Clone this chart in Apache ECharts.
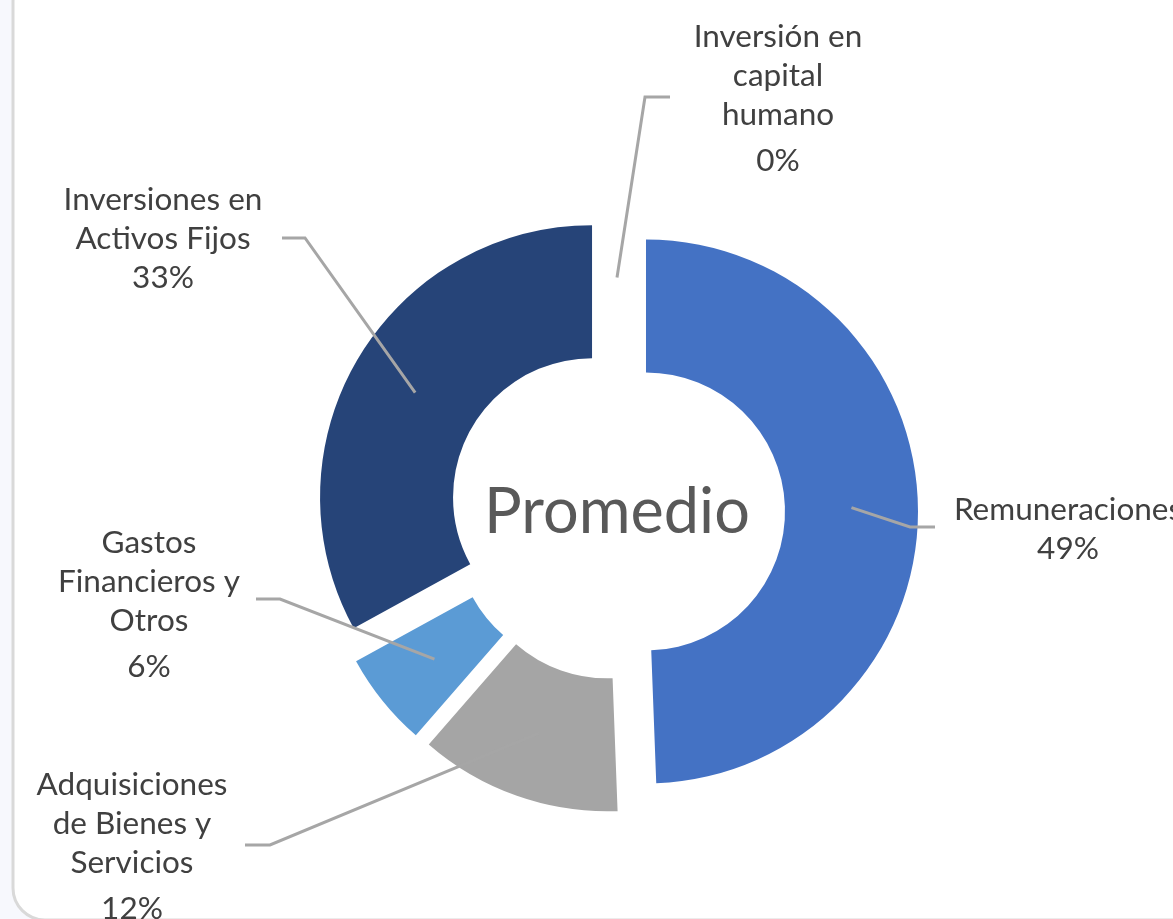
<!DOCTYPE html>
<html lang="es">
<head>
    <meta charset="utf-8" />
    <title>Promedio</title>
    <script src="https://cdn.jsdelivr.net/npm/echarts@6/dist/echarts.min.js"></script>
    <style>
        html, body { margin: 0; padding: 0; background: #f7f8fd; }
    </style>
</head>
<body>
    <div id="box" style="width:1173px;height:919px"></div>
    <script>
        // categorias y valores (porcentajes del promedio)
        var categories = ['Remuneraciones', 'Adquisiciones de Bienes y Servicios', 'Gastos Financieros y Otros', 'Inversiones en Activos Fijos', 'Inversión en capital humano'];
        var labelTexts = ['Remuneraciones', 'Adquisiciones\nde Bienes y\nServicios', 'Gastos\nFinancieros y\nOtros', 'Inversiones en\nActivos Fijos', 'Inversión en\ncapital\nhumano'];
        var values = [49.4, 12.0, 5.6, 33.0, 0];
        var colors = ['#4472c4', '#a5a5a5', '#5b9bd5', '#264478', '#9e480e'];

        // donde van las etiquetas (centro x, arriba y), codo y final de la linea guia
        var labelPos = [[1068, 490], [132, 765], [149, 523], [163, 180], [778, 17]];
        var guideEnds = [
            [[910, 527], [935, 527]],
            [[270, 845], [245, 845]],
            [[280, 599], [256, 599]],
            [[305, 238], [282, 238]],
            [[645, 97], [670, 97]]
        ];
        var tallPct = [false, true, true, false, true];

        var cx = 617, cy = 512, r0 = 139, r1 = 272, explode = 29;
        var font = 'Lato';

        // angulo medio de cada porcion (grados, horario desde arriba) -> para separar las porciones
        var total = values.reduce(function (a, b) { return a + b; }, 0);
        var midAngles = [];
        var acc = 0;
        values.forEach(function (v) {
            midAngles.push((acc + v / 2) / total * 360);
            acc += v;
        });
        function sliceCenter(i) {
            var a = midAngles[i] * Math.PI / 180;
            return [cx + explode * Math.sin(a), cy - explode * Math.cos(a)];
        }

        // una serie por porcion (solo esa porcion visible, desplazada hacia afuera)
        var series = values.map(function (v0, i) {
            return {
                type: 'pie',
                z: 2,
                center: sliceCenter(i),
                radius: [r0, r1],
                startAngle: 90,
                clockwise: true,
                emphasis: { disabled: true },
                silent: true,
                label: { show: false },
                labelLine: { show: false },
                data: values.map(function (v, j) {
                    return {
                        name: categories[j],
                        value: v,
                        itemStyle: { color: j === i ? colors[j] : 'transparent' }
                    };
                })
            };
        });

        // serie invisible encima, solo para las etiquetas y lineas guia
        series.push({
            type: 'pie',
            z: 5,
            center: [cx, cy],
            radius: [r0, r1],
            startAngle: 90,
            clockwise: true,
            avoidLabelOverlap: false,
            emphasis: { disabled: true },
            silent: true,
            itemStyle: { color: 'transparent' },
            data: values.map(function (v, j) {
                return { name: categories[j], value: v };
            }),
            label: {
                show: true,
                position: 'outside',
                formatter: function (p) {
                    var k = tallPct[p.dataIndex] ? 'q' : 'p';
                    return '{n|' + labelTexts[p.dataIndex] + '}\n{' + k + '|' + Math.round(p.percent) + '%}';
                },
                rich: {
                    n: { fontFamily: font, fontSize: 31.5, lineHeight: 39, color: '#404040', align: 'center' },
                    p: { fontFamily: font, fontSize: 31.5, lineHeight: 39, color: '#404040', align: 'center' },
                    q: { fontFamily: font, fontSize: 31.5, lineHeight: 53, color: '#404040', align: 'center' }
                }
            },
            labelLine: {
                show: true,
                length: 10,
                length2: 10,
                lineStyle: { color: '#a6a6a6', width: 3 }
            },
            labelLayout: function (p) {
                var k = p.dataIndex;
                var a = midAngles[k] * Math.PI / 180;
                var c = sliceCenter(k);
                var rm = (r0 + r1) / 2;
                var start = [c[0] + rm * Math.sin(a), c[1] - rm * Math.cos(a)];
                return {
                    x: labelPos[k][0],
                    y: labelPos[k][1],
                    align: 'center',
                    verticalAlign: 'top',
                    labelLinePoints: [start, guideEnds[k][0], guideEnds[k][1]]
                };
            }
        });

        var myChart = echarts.init(document.getElementById('box'));
        var option = {
            backgroundColor: 'transparent',
            animation: false,
            graphic: [
                {
                    type: 'rect',
                    z: -10,
                    shape: { x: 13, y: -30, width: 1200, height: 950, r: 32 },
                    style: { fill: '#ffffff', stroke: '#d9d9d9', lineWidth: 3 }
                },
                {
                    type: 'text',
                    x: cx,
                    y: 513,
                    style: {
                        text: 'Promedio',
                        fill: '#595959',
                        font: '63px Lato',
                        textAlign: 'center',
                        textVerticalAlign: 'middle'
                    }
                }
            ],
            series: series
        };
        myChart.setOption(option);
    </script>
</body>
</html>
